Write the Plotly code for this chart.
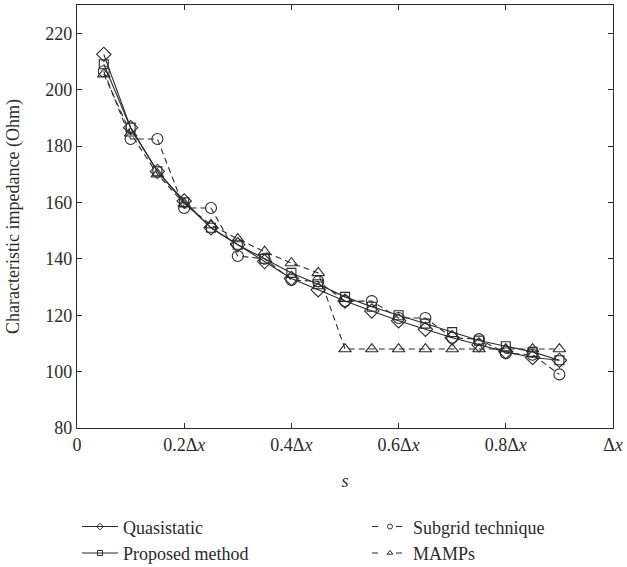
import plotly.graph_objects as go

s = [0.05, 0.10, 0.15, 0.20, 0.25, 0.30, 0.35, 0.40, 0.45,
     0.50, 0.55, 0.60, 0.65, 0.70, 0.75, 0.80, 0.85, 0.90]
quasistatic = [212.5, 186.5, 171, 160.5, 151, 145, 139, 133, 129,
               125, 121.5, 118, 115, 112, 109.5, 107, 105, 104]
proposed = [209, 186.5, 171, 160, 151, 145, 140, 135, 131,
            126.5, 123, 120, 117, 114, 111, 109, 107, 104]
subgrid = [206.5, 182.5, 182.5, 158, 158, 141, 140, 132.5, 132,
           125, 125, 119, 119, 112, 111.5, 106.5, 106, 99]
mamps = [205.5, 184.5, 170, 159.5, 152, 147, 142.5, 138.5, 135,
         108, 108, 108, 108, 108, 108, 108, 108, 108]

xtick_vals = [0, 0.2, 0.4, 0.6, 0.8, 1.0]
xtick_text = ["0", "0.2Δ<i>x</i>", "0.4Δ<i>x</i>", "0.6Δ<i>x</i>", "0.8Δ<i>x</i>", "Δ<i>x</i>"]
ytick_vals = [80, 100, 120, 140, 160, 180, 200, 220]

C = "#2b2b2b"
FONT = "Liberation Serif"
FS = 18

fig = go.Figure()
series = [
    ("Quasistatic", quasistatic, "diamond-open", "solid", "legend", 11),
    ("Proposed method", proposed, "square-open", "solid", "legend", 9),
    ("Subgrid technique", subgrid, "circle-open", "6px,4px", "legend2", 11),
    ("MAMPs", mamps, "triangle-up-open", "6px,4px", "legend2", 11),
]
for name, ys, sym, dash, leg, size in series:
    fig.add_trace(go.Scatter(
        x=s, y=ys, name=name, mode="lines+markers",
        line=dict(color=C, width=1.1, dash=dash),
        marker=dict(symbol=sym, size=size, color=C, line=dict(width=1.1, color=C)),
        showlegend=False,
    ))
# legend-only entries with smaller markers, as in the reference legend
for name, ys, sym, dash, leg, size in series:
    fig.add_trace(go.Scatter(
        x=[None], y=[None], name=name, mode="lines+markers",
        line=dict(color=C, width=1.1, dash="6px,18px" if dash != "solid" else "solid"),
        marker=dict(symbol=sym, size=5, color=C, line=dict(width=1, color=C)),
        legend=leg, showlegend=True,
    ))

axis_common = dict(
    showline=True, linecolor=C, linewidth=1.3, mirror="ticks",
    ticks="inside", ticklen=5, tickcolor=C, tickwidth=1,
    showgrid=False, zeroline=False, automargin=False,
    tickfont=dict(family=FONT, size=FS, color=C),
)

fig.update_xaxes(range=[0, 1], tickvals=xtick_vals, ticktext=xtick_text, tickangle=0,
                 title=dict(text="<i>s</i>", font=dict(family=FONT, size=FS, color=C), standoff=20),
                 **axis_common)
fig.update_yaxes(range=[80, 230], tickvals=ytick_vals,
                 title=dict(text="Characteristic impedance (Ohm)", font=dict(family=FONT, size=FS, color=C), standoff=20),
                 **axis_common)

legend_common = dict(
    font=dict(family=FONT, size=FS, color=C),
    bgcolor="rgba(0,0,0,0)", borderwidth=0,
    xanchor="left", yanchor="top",
    tracegroupgap=0, itemwidth=36,
)
fig.update_layout(
    width=627, height=567,
    margin=dict(l=77, r=14, t=5, b=139, autoexpand=False),
    plot_bgcolor="white", paper_bgcolor="white",
    font=dict(family=FONT, color=C),
    legend=dict(x=0.0, y=-0.19, **legend_common),
    legend2=dict(x=0.541, y=-0.19, **legend_common),
)

fig.write_html("out.html")
